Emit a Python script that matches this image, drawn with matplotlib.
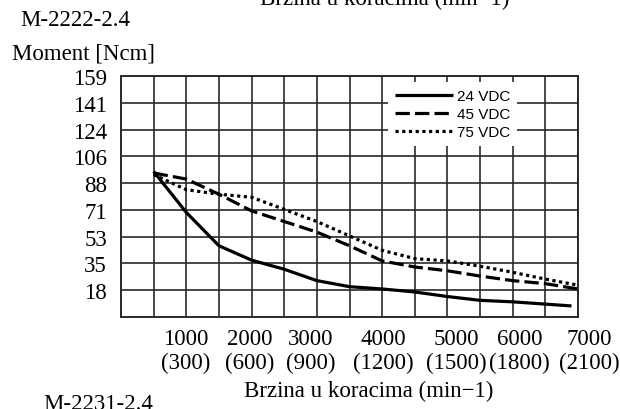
import matplotlib
matplotlib.use("Agg")
import matplotlib.pyplot as plt
from matplotlib.ticker import MultipleLocator

# speed in steps/min, torque in Ncm
speed = [500, 1000, 1500, 2000, 2500, 3000, 3500, 4000, 4500, 5000, 5500, 6000, 6500, 7000]
speed_24 = [500, 1000, 1500, 2000, 2500, 3000, 3500, 4000, 4500, 5000, 5500, 6000, 6500, 6900]
torque_24 = [96, 69, 47, 37.5, 31.5, 24, 20, 18.5, 16.5, 13.5, 11, 10, 8.5, 7.3]
torque_45 = [95, 91, 81, 70, 63, 56, 47, 37, 33, 30.5, 27, 24, 22, 18.5]
torque_75 = [94, 84, 81, 79, 71, 63, 53.5, 44, 38.5, 37, 33.5, 29.5, 25, 21]

x_ticks = [1000, 2000, 3000, 4000, 5000, 6000, 7000]
x_rev = [300, 600, 900, 1200, 1500, 1800, 2100]
y_ticks = [17.67, 35.33, 53, 70.67, 88.33, 106, 123.67, 141.33, 159]
y_labels = ["18", "35", "53", "71", "88", "106", "124", "141", "159"]

serif = "Liberation Serif"
fs = 16.5

fig = plt.figure(figsize=(6.2, 4.1), dpi=100)
ax = fig.add_axes([121/620, 1-318/410, 457/620, 241/410])

ax.plot(speed_24, torque_24, color="black", lw=2.3, solid_capstyle="butt", label="24 VDC")
ax.plot(speed, torque_45, color="black", lw=2.3, dashes=(4.5, 1.6), label="45 VDC")
ax.plot(speed, torque_75, color="black", lw=2.3, dashes=(1, 1.1), label="75 VDC")

ax.set_xlim(0, 7000)
ax.set_ylim(0, 159)
ax.set_xticks(x_ticks)
ax.set_xticklabels([])
# two-line x labels, nudged like in the scanned original
shifts = [-0.5, -2, -6, 1, 9, 7, 11]
for xv, rv, dx in zip(x_ticks, x_rev, shifts):
    ax.annotate(f"{xv}\n({rv})", xy=(xv, 0), xycoords=("data", "axes fraction"),
                xytext=(dx*0.72, -8), textcoords="offset points",
                ha="center", va="top", fontfamily=serif, fontsize=fs,
                linespacing=1.18, annotation_clip=False)
ax.xaxis.set_minor_locator(MultipleLocator(500))
ax.set_yticks(y_ticks)
ax.set_yticklabels(y_labels, fontfamily=serif, fontsize=fs)
ax.tick_params(which="both", length=0)
ax.tick_params(axis="y", pad=10)
ax.grid(True, which="both", color="#2a2a2a", lw=1.2)
ax.set_axisbelow(True)
for s in ax.spines.values():
    s.set_color("#2a2a2a")
    s.set_linewidth(1.4)

leg = ax.legend(loc="upper left", bbox_to_anchor=(0.585, 0.975), frameon=True,
                fancybox=False, edgecolor="none", facecolor="white", framealpha=1,
                prop={"family": "Liberation Sans", "size": 11},
                handlelength=3.8, handletextpad=0.25, labelspacing=0.28,
                borderpad=0.45, borderaxespad=0)

fig.text(260/620, 1-5/410, "Brzina u koracima (min\u22121)", fontfamily=serif,
         fontsize=fs, ha="left", va="baseline")
fig.text(20/620, 1-20/410, "M-2222-2.4", fontfamily=serif, fontsize=fs,
         ha="left", va="center")
fig.text(12/620, 1-54/410, "Moment [Ncm]", fontfamily=serif, fontsize=fs,
         ha="left", va="center")
fig.text(369/620, 1-391/410, "Brzina u koracima (min\u22121)", fontfamily=serif,
         fontsize=fs, ha="center", va="center")
fig.text(43/620, 1-405/410, "M-2231-2.4", fontfamily=serif, fontsize=fs,
         ha="left", va="center")

fig.savefig("out.png", dpi=100)
